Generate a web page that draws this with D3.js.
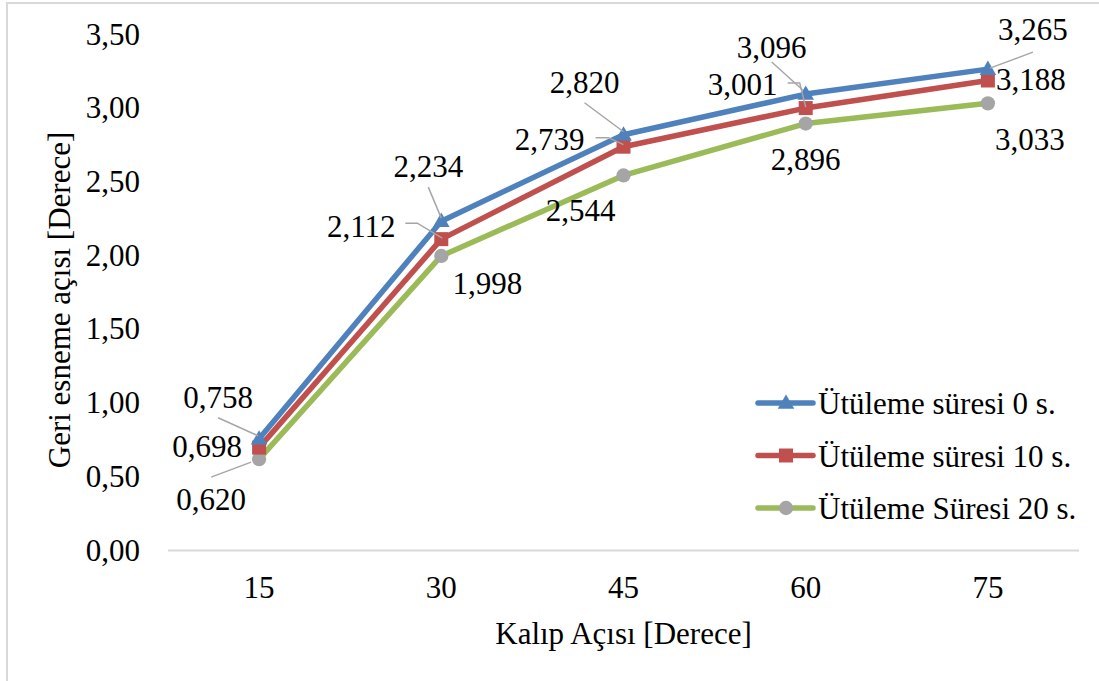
<!DOCTYPE html>
<html>
<head>
<meta charset="utf-8">
<script src="https://cdn.jsdelivr.net/npm/d3@7"></script>
<style>
  body { margin: 0; background: #fff; }
  svg { display: block; font-family: "Liberation Serif", "Times New Roman", serif; }
</style>
</head>
<body>
<div id="chart"></div>
<script>
const categories = ["15", "30", "45", "60", "75"];
const yTicks = [0, 0.5, 1, 1.5, 2, 2.5, 3, 3.5];
const seriesNames = ["Ütüleme süresi 0 s.", "Ütüleme süresi 10 s.", "Ütüleme Süresi 20 s."];
const values0 = [0.758, 2.234, 2.820, 3.096, 3.265];
const values10 = [0.698, 2.112, 2.739, 3.001, 3.188];
const values20 = [0.620, 1.998, 2.544, 2.896, 3.033];

// label placement (offset of label centre/baseline from its point) and leader lines
const labelOffsets = [
  [[-41, -31], [-13, -44], [-39, -42], [-34, -36], [45, -29]],
  [[-52, 9], [-80, -2], [-74, 3], [-63, -13], [43, 10]],
  [[-48, 51], [46, 38], [-43, 46], [0, 46], [42, 47]]
];
const leaders = [
  [[[-41, -21], [-1, -3]], [[-13, -34], [0, -3]], [[-39, -32], [0, -3]], [[-34, -32], [-3, -4]], [[45, -17], [2, -1]]],
  [null, [[-36, -16], [-24, -16], [1, -1]], [[-28, -9], [-15, -9], [0, -2]], [[-18, -25], [-6, -25], [0, -1]], null],
  [[[-48, 18], [-8, 3]], null, null, null, null]
];

(function () {
  const width = 1099, height = 681;
  const margin = { top: 34.5, right: 20, bottom: 130.5, left: 168 };
  const plotRight = 1079;

  const svg = d3.select("#chart").append("svg")
    .attr("width", width)
    .attr("height", height);

  svg.append("rect")
    .attr("x", 7).attr("y", 3)
    .attr("width", width + 10).attr("height", height + 10)
    .attr("fill", "#fff")
    .attr("stroke", "#D9D9D9")
    .attr("stroke-width", 2);

  const x = d3.scaleBand()
    .domain(categories)
    .range([margin.left, plotRight]);

  const y = d3.scaleLinear()
    .domain([0, 3.5])
    .range([550.5, margin.top]);

  const fmt = v => d3.format(".3f")(v).replace(".", ",");
  const tickFmt = v => d3.format(".2f")(v).replace(".", ",");

  // y tick labels
  svg.append("g")
    .selectAll("text")
    .data(yTicks)
    .join("text")
    .attr("x", 140)
    .attr("y", d => y(d) + 10)
    .attr("text-anchor", "end")
    .attr("font-size", 31)
    .attr("fill", "#000")
    .text(tickFmt);

  // category axis line
  svg.append("line")
    .attr("x1", margin.left).attr("x2", plotRight)
    .attr("y1", y(0)).attr("y2", y(0))
    .attr("stroke", "#D9D9D9")
    .attr("stroke-width", 2);

  svg.append("g")
    .selectAll("text")
    .data(categories)
    .join("text")
    .attr("x", d => x(d) + x.bandwidth() / 2)
    .attr("y", 598)
    .attr("text-anchor", "middle")
    .attr("font-size", 31)
    .text(d => d);

  svg.append("text")
    .attr("x", (margin.left + plotRight) / 2)
    .attr("y", 644)
    .attr("text-anchor", "middle")
    .attr("font-size", 31)
    .text("Kalıp Açısı [Derece]");

  svg.append("text")
    .attr("transform", "rotate(-90)")
    .attr("x", -300)
    .attr("y", 70)
    .attr("text-anchor", "middle")
    .attr("font-size", 31)
    .text("Geri esneme açısı [Derece]");

  const series = [
    { name: seriesNames[0], values: values0, line: "#4F81BD", marker: "#4F81BD", shape: d3.symbolTriangle, size: 120 },
    { name: seriesNames[1], values: values10, line: "#C0504D", marker: "#C0504D", shape: d3.symbolSquare, size: 196 },
    { name: seriesNames[2], values: values20, line: "#9BBB59", marker: "#A5A5A5", shape: d3.symbolCircle, size: 160 }
  ];

  const cx = i => x(categories[i]) + x.bandwidth() / 2;

  const line = d3.line()
    .x((d, i) => cx(i))
    .y(d => y(d));

  // lines and markers, drawn bottom series first
  series.slice().reverse().forEach(s => {
    svg.append("path")
      .datum(s.values)
      .attr("fill", "none")
      .attr("stroke", s.line)
      .attr("stroke-width", 5.5)
      .attr("stroke-linejoin", "round")
      .attr("stroke-linecap", "round")
      .attr("d", line);
  });
  series.slice().reverse().forEach(s => {
    svg.append("g")
      .selectAll("path")
      .data(s.values)
      .join("path")
      .attr("transform", (d, i) => `translate(${cx(i)},${y(d) + (s.shape === d3.symbolTriangle ? 1 : 0)})`)
      .attr("d", d3.symbol(s.shape, s.size))
      .attr("fill", s.marker);
  });

  // leader lines
  series.forEach((s, si) => {
    s.values.forEach((v, i) => {
      const pts = leaders[si][i];
      if (!pts) return;
      svg.append("path")
        .attr("d", d3.line()(pts.map(p => [cx(i) + p[0], y(v) + p[1]])))
        .attr("fill", "none")
        .attr("stroke", "#A6A6A6")
        .attr("stroke-width", 1.5);
    });
  });

  // data labels
  series.forEach((s, si) => {
    svg.append("g")
      .selectAll("text")
      .data(s.values)
      .join("text")
      .attr("x", (d, i) => cx(i) + labelOffsets[si][i][0])
      .attr("y", (d, i) => y(d) + labelOffsets[si][i][1])
      .attr("text-anchor", "middle")
      .attr("font-size", 31)
      .text(fmt);
  });

  // legend
  const legend = svg.append("g");
  series.forEach((s, i) => {
    const ly = 403 + i * 52.5;
    legend.append("line")
      .attr("x1", 758).attr("x2", 813)
      .attr("y1", ly).attr("y2", ly)
      .attr("stroke", s.line)
      .attr("stroke-width", 5.5)
      .attr("stroke-linecap", "round");
    legend.append("path")
      .attr("transform", `translate(786,${ly + (s.shape === d3.symbolTriangle ? 1 : 0)})`)
      .attr("d", d3.symbol(s.shape, s.size))
      .attr("fill", s.marker);
    legend.append("text")
      .attr("x", 818)
      .attr("y", ly + 11)
      .attr("font-size", 31)
      .text(s.name);
  });
})();
</script>
</body>
</html>
